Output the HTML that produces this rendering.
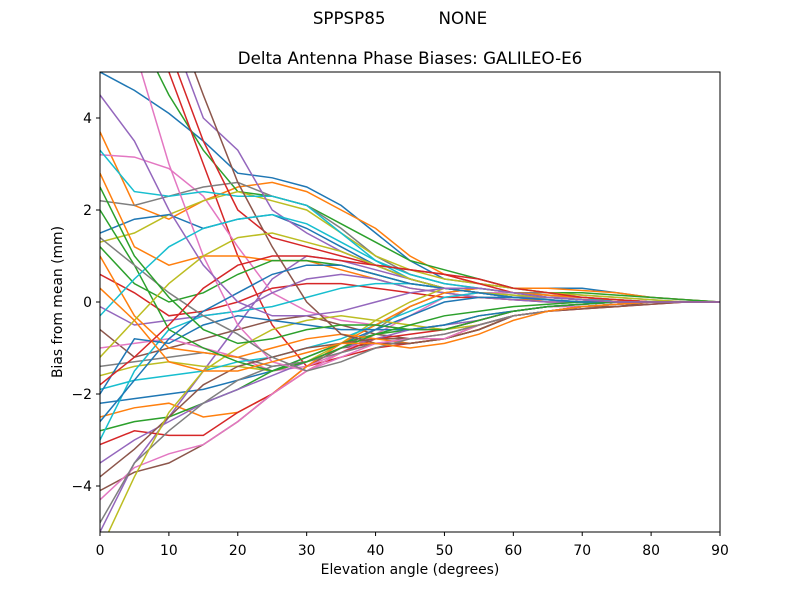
<!DOCTYPE html>
<html><head><meta charset="utf-8"><style>
body{margin:0;background:#fff;}
svg text{font-family:"DejaVu Sans","Liberation Sans",sans-serif;fill:#000;}
</style></head><body>
<svg id="chart" width="800" height="600" xmlns="http://www.w3.org/2000/svg">
<rect width="800" height="600" fill="#fff"/>
<text x="400" y="24" font-size="16.7" text-anchor="middle" xml:space="preserve">SPPSP85          NONE</text>
<text x="410" y="64" font-size="16.7" text-anchor="middle">Delta Antenna Phase Biases: GALILEO-E6</text>
<defs><clipPath id="clip"><rect x="100" y="72" width="620" height="460"/></clipPath></defs>
<g id="lines" clip-path="url(#clip)"></g>
<rect x="100" y="72" width="620" height="460" fill="none" stroke="#000" stroke-width="1"/>
<g id="xt"></g>
<g id="yt"></g>
<text x="410" y="574" font-size="13.9" text-anchor="middle">Elevation angle (degrees)</text>
<text transform="translate(62,302) rotate(-90)" font-size="13.9" text-anchor="middle">Bias from mean (mm)</text>
</svg>
<script>
const elevations=[0,5,10,15,20,25,30,35,40,45,50,55,60,65,70,75,80,85,90];
const xTicks=[0,10,20,30,40,50,60,70,80,90];
const yTicks=[-4,-2,0,2,4];
const s1=[5.0,4.6,4.1,3.5,2.8,2.7,2.5,2.1,1.5,0.9,0.5,0.4,0.3,0.3,0.3,0.2,0.1,0.05,0];
const s2=[3.7,2.1,1.8,2.2,2.5,2.6,2.4,2.0,1.6,1.0,0.6,0.4,0.3,0.3,0.25,0.2,0.1,0.05,0];
const s3=[7.0,6.0,4.5,3.3,2.4,2.3,2.1,1.7,1.3,0.9,0.7,0.5,0.3,0.2,0.2,0.15,0.1,0.05,0];
const s4=[8.0,7.0,5.0,3.0,1.0,-0.5,-1.4,-1.2,-1.0,-0.9,-0.8,-0.5,-0.3,-0.2,-0.15,-0.1,-0.05,0,0];
const s5=[-5.0,-3.5,-2.5,-1.5,-0.5,0.5,1.0,0.9,0.7,0.5,0.3,0.2,0.1,0.1,0.05,0.05,0,0,0];
const s6=[-4.1,-3.7,-3.5,-3.1,-2.6,-2.0,-1.4,-1.0,-0.9,-0.9,-0.8,-0.6,-0.3,-0.2,-0.15,-0.1,-0.05,0,0];
const s7=[3.2,3.15,2.9,2.3,1.2,0.2,-0.2,-0.4,-0.5,-0.6,-0.6,-0.4,-0.2,-0.1,-0.1,-0.05,0,0,0];
const s8=[2.2,2.1,2.3,2.5,2.6,2.3,2.1,1.6,1.0,0.6,0.4,0.3,0.2,0.2,0.15,0.1,0.05,0,0];
const s9=[1.3,1.5,1.9,2.2,2.4,2.2,2.0,1.5,1.0,0.7,0.5,0.4,0.3,0.2,0.15,0.1,0.05,0,0];
const s10=[3.3,2.4,2.3,2.4,2.3,2.3,2.1,1.5,0.9,0.5,0.3,0.2,0.1,0.1,0.05,0.05,0,0,0];
const s11=[1.5,1.8,1.9,1.6,1.8,1.9,1.6,1.2,0.8,0.5,0.3,0.2,0.1,0.1,0.1,0.05,0,0,0];
const s12=[2.8,1.2,0.8,1.0,1.0,0.9,0.9,0.7,0.5,0.3,0.2,0.1,0.05,0.05,0,0,0,0,0];
const s13=[1.2,0.4,0.0,0.2,0.6,0.9,0.9,0.8,0.6,0.4,0.3,0.2,0.1,0.1,0.05,0,0,0,0];
const s14=[0.6,0.2,-0.3,-0.2,0.0,0.3,0.4,0.4,0.3,0.2,0.1,0.1,0.05,0,0,0,0,0,0];
const s15=[-0.1,-0.5,-0.4,-0.3,-0.2,0.2,0.5,0.6,0.5,0.3,0.2,0.1,0.05,0,0,0,0,0,0];
const s16=[-0.6,-1.2,-1.0,-0.8,-0.6,-0.4,-0.3,-0.5,-0.7,-0.8,-0.8,-0.6,-0.3,-0.2,-0.1,-0.1,0,0,0];
const s17=[-1.0,-0.9,-0.8,-1.0,-1.2,-1.5,-1.4,-1.1,-0.7,-0.3,0.1,0.2,0.2,0.1,0.1,0.05,0,0,0];
const s18=[-1.4,-1.3,-1.2,-1.1,-1.2,-1.4,-1.3,-1.0,-0.6,-0.1,0.2,0.3,0.2,0.15,0.1,0.05,0,0,0];
const s19=[-1.6,-1.4,-1.3,-1.4,-1.4,-1.5,-1.3,-0.9,-0.4,0.0,0.3,0.3,0.2,0.15,0.1,0.05,0,0,0];
const s20=[-1.9,-1.7,-1.6,-1.5,-1.3,-1.2,-1.0,-0.8,-0.5,-0.2,0.1,0.2,0.15,0.1,0.05,0,0,0,0];
const s21=[-2.2,-2.1,-2.0,-1.9,-1.7,-1.5,-1.2,-0.9,-0.6,-0.3,0.0,0.1,0.1,0.05,0,0,0,0,0];
const s22=[-2.5,-2.3,-2.2,-2.5,-2.4,-2.0,-1.4,-0.9,-0.5,-0.1,0.2,0.3,0.2,0.15,0.1,0.05,0,0,0];
const s23=[-2.8,-2.6,-2.5,-2.2,-1.9,-1.5,-1.2,-0.9,-0.7,-0.6,-0.5,-0.3,-0.2,-0.1,-0.05,0,0,0,0];
const s24=[-3.1,-2.8,-2.9,-2.9,-2.4,-2.0,-1.5,-1.1,-0.8,-0.7,-0.6,-0.4,-0.2,-0.1,-0.05,0,0,0,0];
const s25=[-3.5,-3.0,-2.6,-2.2,-1.9,-1.6,-1.3,-1.0,-0.8,-0.6,-0.5,-0.4,-0.2,-0.1,-0.05,0,0,0,0];
const s26=[-3.8,-3.2,-2.5,-1.8,-1.4,-1.2,-1.0,-0.9,-0.8,-0.8,-0.7,-0.5,-0.3,-0.2,-0.1,-0.05,0,0,0];
const s27=[-4.3,-3.6,-3.3,-3.1,-2.6,-2.0,-1.5,-1.1,-0.9,-0.8,-0.7,-0.5,-0.3,-0.2,-0.1,-0.05,0,0,0];
const s28=[-4.8,-3.5,-2.8,-2.2,-1.7,-1.4,-1.3,-1.1,-0.9,-0.9,-0.8,-0.6,-0.3,-0.2,-0.1,-0.05,0,0,0];
const s29=[-5.4,-3.8,-2.4,-1.5,-1.0,-0.6,-0.4,-0.3,-0.4,-0.5,-0.6,-0.5,-0.3,-0.2,-0.1,-0.05,0,0,0];
const s30=[-3.0,-1.5,-0.6,-0.3,-0.2,-0.1,0.1,0.3,0.4,0.4,0.3,0.2,0.1,0.05,0,0,0,0,0];
const s31=[-2.0,-0.8,-0.9,-0.5,-0.3,-0.4,-0.5,-0.6,-0.6,-0.6,-0.5,-0.3,-0.2,-0.1,-0.05,0,0,0,0];
const s32=[1.0,-0.3,-1.0,-1.1,-1.2,-1.0,-0.8,-0.7,-0.8,-0.9,-0.8,-0.6,-0.3,-0.2,-0.1,-0.05,0,0,0];
const s33=[2.0,0.8,-0.6,-1.0,-1.3,-1.5,-1.3,-1.0,-0.7,-0.5,-0.3,-0.2,-0.1,-0.05,0,0,0,0,0];
const s34=[9.0,7.5,5.5,3.5,2.0,1.4,1.2,1.0,0.8,0.7,0.6,0.5,0.3,0.2,0.1,0.05,0,0,0];
const s35=[10,8.0,6.0,4.0,3.3,2.0,1.5,1.1,0.8,0.5,0.3,0.2,0.1,0.1,0.05,0,0,0,0];
const s36=[9.5,8.0,6.5,4.5,2.6,1.2,0.0,-0.7,-0.9,-0.9,-0.8,-0.6,-0.3,-0.2,-0.1,-0.05,0,0,0];
const s37=[6.5,5.5,3.0,1.0,-0.5,-1.3,-1.5,-1.2,-0.9,-0.8,-0.8,-0.5,-0.3,-0.2,-0.1,-0.05,0,0,0];
const s38=[1.4,0.8,0.2,-0.3,-0.7,-1.2,-1.5,-1.3,-1.0,-0.8,-0.7,-0.5,-0.3,-0.2,-0.1,-0.05,0,0,0];
const s39=[-1.2,-0.4,0.4,1.0,1.4,1.5,1.3,1.1,0.8,0.5,0.3,0.2,0.15,0.1,0.05,0,0,0,0];
const s40=[-0.3,0.5,1.2,1.6,1.8,1.9,1.7,1.3,0.9,0.6,0.4,0.3,0.2,0.1,0.05,0,0,0,0];
const s41=[-2.6,-1.7,-0.8,-0.2,0.2,0.6,0.8,0.8,0.6,0.4,0.3,0.2,0.1,0.05,0,0,0,0,0];
const s42=[0.3,-0.4,-1.3,-1.5,-1.5,-1.3,-1.1,-0.9,-0.9,-1.0,-0.9,-0.7,-0.4,-0.2,-0.1,-0.05,0,0,0];
const s43=[2.5,1.0,0.1,-0.6,-0.9,-0.8,-0.6,-0.5,-0.5,-0.6,-0.6,-0.4,-0.2,-0.1,-0.05,0,0,0,0];
const s44=[-1.8,-1.2,-0.5,0.3,0.8,1.0,1.0,0.9,0.8,0.7,0.6,0.4,0.2,0.1,0.05,0,0,0,0];
const s45=[4.5,3.5,2.0,0.8,0.0,-0.3,-0.3,-0.2,0.0,0.2,0.3,0.3,0.2,0.1,0.05,0,0,0,0];
const series=[s1,s2,s3,s4,s5,s6,s7,s8,s9,s10,s11,s12,s13,s14,s15,s16,s17,s18,s19,s20,s21,s22,s23,s24,s25,s26,s27,s28,s29,s30,s31,s32,s33,s34,s35,s36,s37,s38,s39,s40,s41,s42,s43,s44,s45];
const colors=["#1f77b4","#ff7f0e","#2ca02c","#d62728","#9467bd","#8c564b","#e377c2","#7f7f7f","#bcbd22","#17becf"];
const NS="http://www.w3.org/2000/svg";
const X=v=>100+(v-0)/90*620;
const Y=v=>302-v*46;
const lines=document.getElementById('lines');
series.forEach((s,i)=>{
  const p=document.createElementNS(NS,'polyline');
  p.setAttribute('points',s.map((v,j)=>X(elevations[j]).toFixed(1)+','+Y(v).toFixed(1)).join(' '));
  p.setAttribute('fill','none');p.setAttribute('stroke',colors[i%10]);p.setAttribute('stroke-width','1.5');
  
  
  lines.appendChild(p);
});
const xt=document.getElementById('xt');
xTicks.forEach(t=>{
  const l=document.createElementNS(NS,'line');
  l.setAttribute('x1',X(t));l.setAttribute('x2',X(t));l.setAttribute('y1',532);l.setAttribute('y2',536);l.setAttribute('stroke','#000');
  
  
  xt.appendChild(l);
  const tx=document.createElementNS(NS,'text');
  tx.setAttribute('x',X(t));tx.setAttribute('y',555);tx.setAttribute('font-size','13.9');tx.setAttribute('text-anchor','middle');
  tx.textContent=t;
  
  
  xt.appendChild(tx);
});
const yt=document.getElementById('yt');
yTicks.forEach(t=>{
  const l=document.createElementNS(NS,'line');
  l.setAttribute('x1',96);l.setAttribute('x2',100);l.setAttribute('y1',Y(t));l.setAttribute('y2',Y(t));l.setAttribute('stroke','#000');
  
  
  yt.appendChild(l);
  const tx=document.createElementNS(NS,'text');
  tx.setAttribute('x',92);tx.setAttribute('y',Y(t)+5);tx.setAttribute('font-size','13.9');tx.setAttribute('text-anchor','end');
  tx.textContent=t<0?'\u2212'+Math.abs(t):t;
  
  
  yt.appendChild(tx);
});
</script>
</body></html>
